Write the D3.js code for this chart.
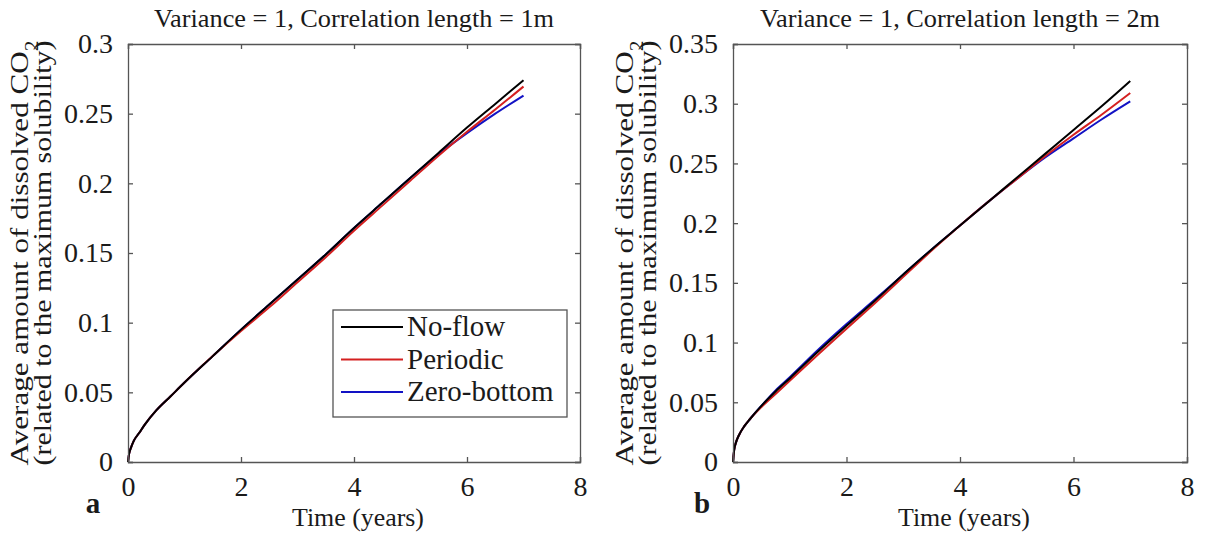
<!DOCTYPE html>
<html><head><meta charset="utf-8">
<script src="https://cdn.jsdelivr.net/npm/d3@7"></script>
<style>
body{margin:0;background:#fff;}
svg text{font-family:"Liberation Serif","Tinos","Times New Roman","DejaVu Serif",serif !important;fill:#1a1a1a;}
</style></head>
<body><svg id="c" width="1206" height="533"></svg>
<script>
// ---- data ----
const seriesNames = ["No-flow","Periodic","Zero-bottom"];
const seriesColors = ["#000000","#d42020","#1212c4"];
const timeA = [0,0.02,0.05,0.1,0.2,0.3,0.5,0.75,1,1.5,2,2.5,3,3.5,4,4.5,5,5.5,6,6.5,7];
const noFlowA =     [0,0.006,0.010,0.015,0.021,0.027,0.037,0.047,0.057,0.076,0.095,0.113,0.131,0.149,0.168,0.186,0.204,0.222,0.240,0.257,0.274];
const periodicA =   [0,0.006,0.010,0.015,0.021,0.027,0.037,0.047,0.057,0.076,0.094,0.111,0.129,0.147,0.166,0.184,0.202,0.220,0.237,0.253,0.2695];
const zeroBottomA = [0,0.006,0.010,0.015,0.021,0.027,0.037,0.047,0.057,0.076,0.095,0.113,0.131,0.149,0.168,0.186,0.204,0.221,0.236,0.250,0.263];
const timeB = [0,0.02,0.05,0.1,0.2,0.3,0.5,0.75,1,1.5,2,2.5,3,3.5,4,4.5,5,5.5,6,6.5,7];
const noFlowB =     [0,0.010,0.016,0.022,0.030,0.036,0.047,0.059,0.070,0.0925,0.114,0.135,0.157,0.178,0.198,0.218,0.238,0.258,0.278,0.298,0.319];
const periodicB =   [0,0.010,0.016,0.022,0.030,0.036,0.046,0.057,0.068,0.090,0.1115,0.133,0.155,0.177,0.198,0.218,0.237,0.256,0.274,0.291,0.309];
const zeroBottomB = [0,0.010,0.016,0.022,0.030,0.036,0.047,0.060,0.071,0.094,0.1155,0.136,0.157,0.178,0.198,0.218,0.237,0.255,0.271,0.287,0.302];
const xTicks = [0,2,4,6,8];
const yTicksA = [0,0.05,0.1,0.15,0.2,0.25,0.3];
const yTicksB = [0,0.05,0.1,0.15,0.2,0.25,0.3,0.35];
const titles = ["Variance = 1, Correlation length = 1m","Variance = 1, Correlation length = 2m"];
const panelLetters = ["a","b"];

const svg = d3.select("#c");
const panels = [
  {x0:128,x1:580,y0:44,y1:462,ymax:0.3,yt:yTicksA,t:timeA,ys:[noFlowA,periodicA,zeroBottomA],title:titles[0],letter:panelLetters[0],ldx:-35,legend:true},
  {x0:733,x1:1187,y0:44,y1:462,ymax:0.35,yt:yTicksB,t:timeB,ys:[noFlowB,periodicB,zeroBottomB],title:titles[1],letter:panelLetters[1],ldx:-31,legend:false}
];
const axisColor="#555";
panels.forEach(p=>{
  const x=d3.scaleLinear().domain([0,8]).range([p.x0,p.x1]);
  const y=d3.scaleLinear().domain([0,p.ymax]).range([p.y1,p.y0]);
  const g=svg.append("g");
  const line=d3.line().x(d=>x(d[0])).y(d=>y(d[1])).curve(d3.curveMonotoneX);
  [2,1,0].forEach(i=>{
    g.append("path").datum(p.t.map((t,k)=>[t,p.ys[i][k]]))
     .attr("d",line).attr("fill","none").attr("stroke",seriesColors[i]).attr("stroke-width",2);
  });
  const fmt=d=>d===0?"0":String(d);
  const bottom=g.append("g").attr("transform",`translate(0,${p.y1})`).call(d3.axisBottom(x).tickValues(xTicks).tickSize(-5).tickPadding(14).tickFormat(fmt));
  const top=g.append("g").attr("transform",`translate(0,${p.y0})`).call(d3.axisTop(x).tickValues(xTicks).tickSize(-5).tickFormat(""));
  const left=g.append("g").attr("transform",`translate(${p.x0},0)`).call(d3.axisLeft(y).tickValues(p.yt).tickSize(-5).tickPadding(15).tickFormat(fmt));
  const right=g.append("g").attr("transform",`translate(${p.x1},0)`).call(d3.axisRight(y).tickValues(p.yt).tickSize(-5).tickFormat(""));
  [bottom,top,left,right].forEach(a=>{
    a.attr("font-family",null);
    a.selectAll("path").attr("stroke",axisColor).attr("stroke-width",1.3);
    a.selectAll("line").attr("stroke",axisColor).attr("stroke-width",1.3);
    a.selectAll("text").style("font-size","28px").attr("fill","#1a1a1a");
  });
  bottom.selectAll("text").attr("dy","0.71em");
  g.append("text").attr("x",(p.x0+p.x1)/2).attr("y",27).attr("text-anchor","middle").style("font-size","26px")
    .attr("textLength",400).attr("lengthAdjust","spacingAndGlyphs").text(p.title);
  g.append("text").attr("x",(p.x0+p.x1)/2+4).attr("y",526).attr("text-anchor","middle").style("font-size","26px")
    .attr("textLength",132).attr("lengthAdjust","spacingAndGlyphs").text("Time (years)");
  const cy=(p.y0+p.y1)/2;
  const yl1=g.append("text").attr("transform",`translate(${p.x0-100},${cy}) rotate(-90)`).attr("text-anchor","middle").style("font-size","26px")
    .attr("textLength",425).attr("lengthAdjust","spacingAndGlyphs");
  yl1.append("tspan").text("Average amount of dissolved CO");
  yl1.append("tspan").attr("baseline-shift","sub").style("font-size","18px").text("2");
  g.append("text").attr("transform",`translate(${p.x0-77},${cy}) rotate(-90)`).attr("text-anchor","middle").style("font-size","26px")
    .attr("textLength",425).attr("lengthAdjust","spacingAndGlyphs").text("(related to the maximum solubility)");
  g.append("text").attr("x",p.x0+p.ldx).attr("y",513).attr("text-anchor","middle").style("font-size","29px").style("font-weight","bold").attr("fill","#000").text(p.letter);
  if(p.legend){
    const lx=333, ly=310, lw=234, lh=107;
    const lg=g.append("g");
    lg.append("rect").attr("x",lx).attr("y",ly).attr("width",lw).attr("height",lh).attr("fill","#fff").attr("stroke",axisColor).attr("stroke-width",1.3);
    seriesNames.forEach((n,i)=>{
      const yy=ly+17+i*32.5;
      lg.append("line").attr("x1",lx+8).attr("x2",lx+70).attr("y1",yy).attr("y2",yy).attr("stroke",seriesColors[i]).attr("stroke-width",2);
      lg.append("text").attr("x",lx+74).attr("y",yy+9).style("font-size","29px").text(n);
    });
  }
});
</script></body></html>
